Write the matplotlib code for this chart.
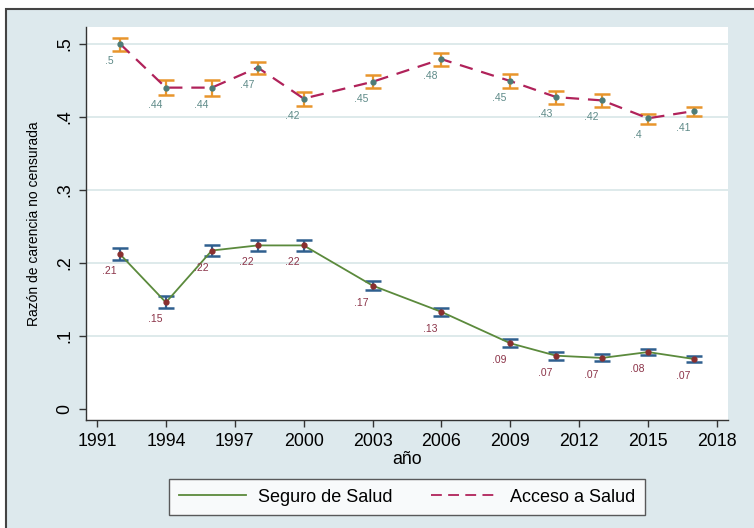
import matplotlib
matplotlib.use("Agg")
import matplotlib.pyplot as plt
from matplotlib.patches import Rectangle
from matplotlib.lines import Line2D

plt.rcParams['font.family'] = ['Liberation Sans', 'DejaVu Sans']

years = [1992, 1994, 1996, 1998, 2000, 2003, 2006, 2009, 2011, 2013, 2015, 2017]

seguro = [0.212, 0.146, 0.217, 0.224, 0.224, 0.169, 0.133, 0.090, 0.073, 0.070, 0.078, 0.0685]
seguro_lo = [0.204, 0.139, 0.209, 0.216, 0.216, 0.163, 0.128, 0.0845, 0.0676, 0.0653, 0.0735, 0.0644]
seguro_hi = [0.221, 0.155, 0.224, 0.231, 0.232, 0.175, 0.139, 0.0963, 0.0776, 0.0749, 0.0817, 0.0726]
seguro_lab = [".21", ".15", ".22", ".22", ".22", ".17", ".13", ".09", ".07", ".07", ".08", ".07"]

acceso = [0.500, 0.440, 0.440, 0.4675, 0.425, 0.448, 0.479, 0.449, 0.427, 0.4225, 0.398, 0.408]
acceso_lo = [0.490, 0.430, 0.429, 0.459, 0.415, 0.440, 0.470, 0.440, 0.418, 0.413, 0.390, 0.401]
acceso_hi = [0.508, 0.450, 0.451, 0.475, 0.434, 0.457, 0.488, 0.458, 0.436, 0.431, 0.404, 0.414]
acceso_lab = [".5", ".44", ".44", ".47", ".42", ".45", ".48", ".45", ".43", ".42", ".4", ".41"]

xticks = [1991, 1994, 1997, 2000, 2003, 2006, 2009, 2012, 2015, 2018]
yticks = [0, 0.1, 0.2, 0.3, 0.4, 0.5]
ytick_labels = ["0", ".1", ".2", ".3", ".4", ".5"]

BG = "#dde9ed"
GREEN = "#5b8a3c"
RED = "#b0225a"
ORANGE = "#e8952c"
BLUE = "#2f5f8e"
TEAL = "#4d7c78"
MAROON = "#8a2f2f"
TEAL_TXT = "#5e8a88"
RED_TXT = "#8b3348"

fig = plt.figure(figsize=(7.54, 5.28), dpi=100)
fig.patch.set_facecolor("white")
# outer frame: only top and left edges fall inside the image
fig.patches.append(Rectangle((6/754, -1), 2, 2 - 9/528, transform=fig.transFigure,
                             facecolor=BG, edgecolor="#444444", linewidth=1.5, zorder=-10))

ax = fig.add_axes([86/754, 1 - 420/528, (728 - 86)/754, (420 - 27)/528])
ax.set_facecolor("white")
ax.set_xlim(1990.52, 2018.48)
ax.set_ylim(-0.015, 0.523)

for s in ["top", "right"]:
    ax.spines[s].set_visible(False)
for s in ["left", "bottom"]:
    ax.spines[s].set_color("#333333")
    ax.spines[s].set_linewidth(1.0)

for y in yticks[1:]:
    ax.axhline(y, color="#d8e6e8", linewidth=1.2, zorder=0)

# Acceso a Salud
ax.errorbar(years, acceso,
            yerr=[[a - l for a, l in zip(acceso, acceso_lo)], [h - a for a, h in zip(acceso, acceso_hi)]],
            fmt="none", ecolor=ORANGE, elinewidth=1.6, capsize=6, capthick=1.8, zorder=2)
ax.plot(years, acceso, color=RED, linestyle=(0, (6, 4)), linewidth=1.6, zorder=3)
ax.plot(years, acceso, "o", color=TEAL, markersize=3.5, zorder=4)

# Seguro de Salud
ax.errorbar(years, seguro,
            yerr=[[a - l for a, l in zip(seguro, seguro_lo)], [h - a for a, h in zip(seguro, seguro_hi)]],
            fmt="none", ecolor=BLUE, elinewidth=1.6, capsize=6, capthick=1.8, zorder=2)
ax.plot(years, seguro, color=GREEN, linewidth=1.3, zorder=3)
ax.plot(years, seguro, "o", color=MAROON, markersize=3.5, zorder=4)

for x, y, t in zip(years, acceso, acceso_lab):
    ax.annotate(t, (x, y), xytext=(-11, -17), textcoords="offset pixels",
                ha="center", va="center", fontsize=7.5, color=TEAL_TXT)
for x, y, t in zip(years, seguro, seguro_lab):
    ax.annotate(t, (x, y), xytext=(-11, -17), textcoords="offset pixels",
                ha="center", va="center", fontsize=7.5, color=RED_TXT)

ax.set_xticks(xticks)
ax.set_xticklabels([str(x) for x in xticks], fontsize=12.8)
ax.set_yticks(yticks)
ax.set_yticklabels(ytick_labels, fontsize=12.8, rotation=90, va="center")
ax.tick_params(axis="both", direction="out", length=5, width=1, color="#333333", pad=4)

ax.set_xlabel("año", fontsize=12.8, labelpad=1)
ax.set_ylabel("Razón de carencia no censurada", fontsize=10, labelpad=11)

handles = [Line2D([0], [0], color=GREEN, linewidth=1.3),
           Line2D([0], [0], color=RED, linewidth=1.3, linestyle=(0, (6, 3.5)))]
leg = fig.legend(handles, ["Seguro de Salud", "Acceso a Salud"], loc="center",
                 bbox_to_anchor=(407/754, 1 - 497/528), ncol=2, fontsize=13,
                 frameon=True, fancybox=False, edgecolor="#333333", handlelength=3.7,
                 handletextpad=0.7, columnspacing=2.1, borderpad=0.55,
                 borderaxespad=0)
leg.get_frame().set_linewidth(1.0)

fig.savefig("out.png", dpi=100, facecolor=fig.get_facecolor())
